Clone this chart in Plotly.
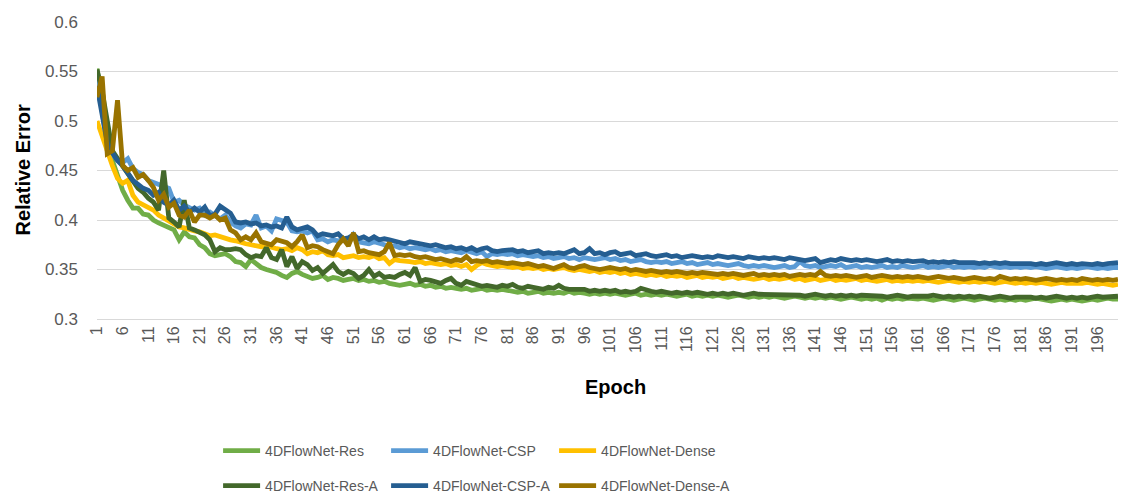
import plotly.graph_objects as go

# Relative error per training epoch for the six 4DFlowNet variants
epochs = list(range(1, 201))
tick_epochs = list(range(1, 200, 5))
y_ticks = [0.3, 0.35, 0.4, 0.45, 0.5, 0.55, 0.6]

res = [
    0.553, 0.520, 0.480, 0.460, 0.445, 0.430, 0.420, 0.412, 0.412, 0.406,
    0.405, 0.400, 0.397, 0.395, 0.392, 0.390, 0.380, 0.388, 0.383, 0.382,
    0.375, 0.372, 0.366, 0.364, 0.365, 0.366, 0.363, 0.358, 0.357, 0.353,
    0.360, 0.356, 0.352, 0.350, 0.349, 0.347, 0.344, 0.342, 0.346, 0.348,
    0.345, 0.343, 0.341, 0.342, 0.344, 0.340, 0.342, 0.341, 0.339, 0.340,
    0.341, 0.339, 0.340, 0.338, 0.339, 0.337, 0.338, 0.336, 0.335, 0.334,
    0.335, 0.336, 0.334, 0.335, 0.333, 0.334, 0.332, 0.333, 0.331, 0.332,
    0.331, 0.330, 0.331, 0.329, 0.330, 0.331, 0.329, 0.330, 0.329, 0.330,
    0.329, 0.328, 0.327, 0.328, 0.326, 0.327, 0.328, 0.326, 0.327, 0.326,
    0.327, 0.326, 0.328, 0.326, 0.327, 0.326, 0.325, 0.326, 0.325, 0.326,
    0.325, 0.326, 0.325, 0.324, 0.325, 0.326, 0.324, 0.325, 0.324, 0.325,
    0.324, 0.325, 0.324, 0.323, 0.324, 0.325, 0.323, 0.324, 0.323, 0.324,
    0.323, 0.324, 0.323, 0.322, 0.323, 0.324, 0.323, 0.322, 0.323, 0.322,
    0.323, 0.322, 0.323, 0.322, 0.321, 0.322, 0.323, 0.322, 0.321, 0.322,
    0.321, 0.322, 0.321, 0.322, 0.321, 0.320, 0.321, 0.322, 0.321, 0.320,
    0.321, 0.320, 0.321, 0.319, 0.321, 0.320, 0.321, 0.320, 0.321, 0.320,
    0.320, 0.321, 0.320, 0.319, 0.320, 0.321, 0.320, 0.319, 0.320, 0.321,
    0.320, 0.319, 0.320, 0.321, 0.320, 0.319, 0.320, 0.319, 0.320, 0.319,
    0.320, 0.319, 0.320, 0.321, 0.320, 0.319, 0.318, 0.319, 0.320, 0.319,
    0.320, 0.319, 0.318, 0.319, 0.320, 0.319, 0.320, 0.321, 0.320, 0.320,
]

csp = [
    0.545, 0.510, 0.475, 0.465, 0.462, 0.458, 0.462, 0.452, 0.448, 0.446,
    0.440, 0.438, 0.436, 0.433, 0.432, 0.418, 0.420, 0.415, 0.412, 0.410,
    0.412, 0.405, 0.408, 0.404, 0.401, 0.405, 0.398, 0.394, 0.392, 0.396,
    0.395, 0.405, 0.392, 0.394, 0.389, 0.401, 0.399, 0.398, 0.389, 0.388,
    0.389, 0.387, 0.389, 0.380, 0.381, 0.378, 0.380, 0.379, 0.380, 0.376,
    0.385, 0.378, 0.377, 0.376, 0.378, 0.377, 0.375, 0.373, 0.374, 0.372,
    0.373, 0.371, 0.372, 0.371, 0.370, 0.371, 0.369, 0.370, 0.368, 0.369,
    0.368, 0.367, 0.369, 0.367, 0.366, 0.368, 0.363, 0.366, 0.365, 0.366,
    0.365, 0.366, 0.364, 0.365, 0.364, 0.363, 0.364, 0.362, 0.363, 0.361,
    0.362, 0.363, 0.361, 0.362, 0.360, 0.362, 0.361, 0.360, 0.361, 0.362,
    0.360, 0.361, 0.359, 0.360, 0.358, 0.359, 0.360, 0.358, 0.357, 0.358,
    0.357, 0.358, 0.356, 0.357, 0.358, 0.356, 0.357, 0.355, 0.356, 0.357,
    0.355, 0.356, 0.355, 0.354, 0.355, 0.356, 0.354, 0.353, 0.354, 0.353,
    0.354, 0.353, 0.352, 0.353, 0.354, 0.352, 0.353, 0.358, 0.354, 0.353,
    0.354, 0.352, 0.353, 0.354, 0.353, 0.355, 0.352, 0.353, 0.354, 0.352,
    0.353, 0.352, 0.353, 0.354, 0.352, 0.353, 0.352, 0.354, 0.353, 0.352,
    0.353, 0.354, 0.352, 0.353, 0.352, 0.353, 0.354, 0.352, 0.353, 0.352,
    0.353, 0.352, 0.353, 0.352, 0.354, 0.353, 0.352, 0.353, 0.352, 0.353,
    0.352, 0.353, 0.352, 0.353, 0.352, 0.351, 0.352, 0.353, 0.352, 0.351,
    0.352, 0.351, 0.352, 0.353, 0.352, 0.351, 0.352, 0.351, 0.352, 0.352,
]

dense = [
    0.500, 0.485, 0.467, 0.455, 0.442, 0.437, 0.440, 0.425, 0.418, 0.415,
    0.413, 0.410, 0.405, 0.402, 0.399, 0.396, 0.393, 0.392, 0.390, 0.389,
    0.388, 0.386, 0.384, 0.385, 0.383, 0.381, 0.380, 0.379, 0.377, 0.376,
    0.375, 0.374, 0.373, 0.374, 0.372, 0.371, 0.370, 0.371, 0.369, 0.372,
    0.370, 0.366, 0.368, 0.367, 0.369, 0.365, 0.364, 0.365, 0.362, 0.363,
    0.364, 0.362, 0.363, 0.362, 0.364, 0.361, 0.362, 0.356, 0.360, 0.359,
    0.359, 0.358, 0.357, 0.358, 0.356, 0.357, 0.356, 0.355, 0.356, 0.354,
    0.355, 0.353, 0.355, 0.350, 0.354, 0.357, 0.355, 0.354, 0.353, 0.354,
    0.353, 0.352, 0.353, 0.351, 0.352, 0.351, 0.352, 0.350, 0.351, 0.350,
    0.351, 0.352, 0.350, 0.349, 0.350, 0.349, 0.348, 0.349, 0.347, 0.348,
    0.347, 0.348, 0.346, 0.347, 0.345, 0.346, 0.345, 0.344, 0.345, 0.344,
    0.345, 0.343, 0.344, 0.343, 0.344, 0.342, 0.343, 0.344, 0.342, 0.343,
    0.342, 0.343, 0.341, 0.342, 0.343, 0.341, 0.342, 0.341, 0.340, 0.341,
    0.342, 0.340, 0.341, 0.340, 0.341, 0.342, 0.340, 0.341, 0.339, 0.340,
    0.341, 0.339, 0.340, 0.341, 0.339, 0.340, 0.339, 0.340, 0.341, 0.339,
    0.340, 0.339, 0.338, 0.339, 0.340, 0.338, 0.339, 0.338, 0.339, 0.338,
    0.339, 0.338, 0.339, 0.338, 0.337, 0.338, 0.339, 0.338, 0.337, 0.338,
    0.337, 0.338, 0.337, 0.338, 0.337, 0.336, 0.337, 0.338, 0.337, 0.336,
    0.337, 0.336, 0.337, 0.336, 0.337, 0.336, 0.335, 0.336, 0.337, 0.336,
    0.336, 0.335, 0.336, 0.337, 0.336, 0.335, 0.336, 0.335, 0.334, 0.335,
]

res_a = [
    0.552, 0.530, 0.500, 0.470, 0.462, 0.455, 0.448, 0.440, 0.432, 0.428,
    0.422, 0.418, 0.410, 0.450, 0.402, 0.398, 0.393, 0.420, 0.392, 0.390,
    0.388, 0.385, 0.380, 0.368, 0.372, 0.370, 0.370, 0.371, 0.370, 0.365,
    0.362, 0.364, 0.363, 0.372, 0.362, 0.360, 0.370, 0.353, 0.363, 0.351,
    0.358, 0.355, 0.349, 0.352, 0.346, 0.350, 0.355, 0.348, 0.345, 0.348,
    0.346, 0.341, 0.344, 0.350, 0.343, 0.346, 0.342, 0.343, 0.342, 0.345,
    0.347, 0.344, 0.352, 0.338, 0.340, 0.339, 0.337, 0.336, 0.339, 0.341,
    0.336, 0.334, 0.338, 0.336, 0.335, 0.333, 0.334, 0.333, 0.332, 0.334,
    0.333, 0.335, 0.332, 0.331, 0.333, 0.332, 0.331, 0.330, 0.332, 0.331,
    0.334, 0.331, 0.330, 0.330, 0.329, 0.330, 0.328, 0.329, 0.328, 0.329,
    0.328, 0.329, 0.327, 0.328, 0.327, 0.328, 0.331, 0.329, 0.328, 0.327,
    0.328, 0.327, 0.326, 0.327, 0.326, 0.327, 0.326, 0.327, 0.326, 0.325,
    0.326, 0.325, 0.326, 0.325, 0.326, 0.325, 0.324, 0.325, 0.326, 0.325,
    0.325, 0.324, 0.325, 0.324, 0.325, 0.324, 0.325, 0.324, 0.323, 0.324,
    0.325, 0.324, 0.323, 0.324, 0.323, 0.324, 0.323, 0.324, 0.323, 0.324,
    0.324, 0.323, 0.324, 0.323, 0.322, 0.323, 0.324, 0.323, 0.322, 0.323,
    0.323, 0.322, 0.323, 0.324, 0.323, 0.322, 0.323, 0.322, 0.323, 0.322,
    0.323, 0.322, 0.323, 0.322, 0.321, 0.322, 0.323, 0.322, 0.321, 0.322,
    0.322, 0.323, 0.322, 0.321, 0.322, 0.321, 0.322, 0.323, 0.322, 0.321,
    0.322, 0.321, 0.322, 0.321, 0.322, 0.323, 0.322, 0.322, 0.323, 0.323,
]

csp_a = [
    0.535, 0.505, 0.478, 0.468, 0.460, 0.455, 0.448, 0.440, 0.436, 0.432,
    0.430, 0.425, 0.428, 0.418, 0.415, 0.420, 0.410, 0.414, 0.408, 0.412,
    0.408, 0.413, 0.404, 0.406, 0.414, 0.410, 0.407, 0.398, 0.397, 0.398,
    0.396, 0.397, 0.394, 0.395, 0.393, 0.394, 0.392, 0.403, 0.393, 0.390,
    0.391, 0.393, 0.390, 0.384, 0.386, 0.385, 0.384, 0.386, 0.381, 0.382,
    0.385, 0.381, 0.383, 0.380, 0.383, 0.380, 0.381, 0.380, 0.379, 0.378,
    0.376, 0.378, 0.377, 0.376, 0.375, 0.374, 0.375, 0.373, 0.372, 0.373,
    0.371, 0.372, 0.370, 0.372, 0.369, 0.371, 0.372, 0.369, 0.368, 0.369,
    0.370, 0.370, 0.368, 0.369, 0.367, 0.368, 0.369, 0.366, 0.367, 0.366,
    0.367, 0.366, 0.368, 0.370, 0.366, 0.367, 0.371, 0.366, 0.367, 0.365,
    0.367, 0.368, 0.365, 0.366, 0.367, 0.364, 0.365, 0.366, 0.364, 0.363,
    0.364, 0.365, 0.363, 0.364, 0.362, 0.363, 0.364, 0.363, 0.362, 0.363,
    0.362, 0.364, 0.363, 0.362, 0.363, 0.362, 0.361, 0.363, 0.362, 0.361,
    0.362, 0.361, 0.362, 0.361, 0.360, 0.362, 0.361, 0.360, 0.359, 0.360,
    0.361, 0.357, 0.359, 0.360, 0.359, 0.361, 0.360, 0.359, 0.360, 0.359,
    0.360, 0.359, 0.358, 0.359, 0.360, 0.358, 0.359, 0.358, 0.359, 0.358,
    0.358, 0.359, 0.357, 0.358, 0.357, 0.358, 0.357, 0.358, 0.357, 0.357,
    0.358, 0.357, 0.356, 0.357, 0.356, 0.357, 0.356, 0.357, 0.356, 0.356,
    0.357, 0.356, 0.356, 0.355, 0.356, 0.355, 0.356, 0.357, 0.356, 0.355,
    0.356, 0.355, 0.356, 0.355, 0.355, 0.356, 0.355, 0.356, 0.356, 0.357,
]

dense_a = [
    0.524, 0.545, 0.467, 0.470, 0.521, 0.455, 0.450, 0.453, 0.443, 0.446,
    0.440, 0.433, 0.420, 0.426, 0.413, 0.417, 0.405, 0.403, 0.410, 0.398,
    0.405, 0.405, 0.402, 0.405, 0.400, 0.402, 0.390, 0.387, 0.380, 0.383,
    0.380, 0.387, 0.378, 0.377, 0.375, 0.380, 0.378, 0.377, 0.373, 0.378,
    0.385, 0.372, 0.374, 0.373, 0.370, 0.368, 0.366, 0.375, 0.381, 0.374,
    0.387, 0.368, 0.369, 0.367, 0.366, 0.365, 0.368, 0.377, 0.364, 0.365,
    0.364, 0.365, 0.363, 0.362, 0.363, 0.361, 0.360, 0.361, 0.360, 0.358,
    0.360, 0.359, 0.363, 0.358, 0.359, 0.358, 0.359, 0.357, 0.358, 0.357,
    0.356, 0.357, 0.356, 0.355, 0.356, 0.355, 0.353, 0.354, 0.352, 0.351,
    0.353, 0.355, 0.352, 0.351, 0.353, 0.354, 0.352, 0.351, 0.350, 0.351,
    0.352, 0.351, 0.350, 0.351, 0.349, 0.350, 0.349, 0.348, 0.349, 0.348,
    0.347, 0.348, 0.347, 0.348, 0.347, 0.346, 0.347, 0.346, 0.347, 0.346,
    0.346, 0.345, 0.346, 0.345, 0.346, 0.345, 0.344, 0.345, 0.346, 0.344,
    0.345, 0.344, 0.345, 0.344, 0.345, 0.343, 0.344, 0.345, 0.344, 0.345,
    0.344, 0.348, 0.344, 0.343, 0.344, 0.343, 0.344, 0.343, 0.342, 0.343,
    0.344, 0.342, 0.343, 0.344, 0.343, 0.342, 0.343, 0.342, 0.343, 0.342,
    0.343, 0.342, 0.341, 0.342, 0.343, 0.342, 0.341, 0.342, 0.341, 0.340,
    0.341, 0.342, 0.341, 0.340, 0.341, 0.340, 0.343, 0.341, 0.340, 0.341,
    0.340, 0.341, 0.340, 0.339, 0.340, 0.341, 0.340, 0.339, 0.340, 0.339,
    0.340, 0.339, 0.341, 0.340, 0.339, 0.340, 0.339, 0.340, 0.339, 0.340,
]

series = [
    ("4DFlowNet-Res", res, "#70AD47", "legend"),
    ("4DFlowNet-CSP", csp, "#5B9BD5", "legend"),
    ("4DFlowNet-Dense", dense, "#FFC000", "legend"),
    ("4DFlowNet-Res-A", res_a, "#43682B", "legend2"),
    ("4DFlowNet-CSP-A", csp_a, "#255E91", "legend2"),
    ("4DFlowNet-Dense-A", dense_a, "#997300", "legend2"),
]

FONT = "Liberation Sans, Arial, sans-serif"
GRAY = "#595959"

# plot area in pixels: left 97, right 1118, top 22, bottom 319
PLOT_L, PLOT_W, PLOT_B, PLOT_H = 97, 1021, 319, 297

fig = go.Figure()
for name, values, color, legend_id in series:
    fig.add_trace(go.Scatter(
        x=epochs, y=values, name=name, mode="lines",
        line=dict(color=color, width=4.8),
        legend=legend_id,
    ))

# empty spacer entries so the last legend column has room for its full label
for legend_id in ("legend", "legend2"):
    fig.add_trace(go.Scatter(
        x=[None], y=[None], name=" ", mode="lines",
        line=dict(color="rgba(0,0,0,0)", width=0),
        legend=legend_id, hoverinfo="skip",
    ))

legend_style = dict(
    orientation="h", xanchor="left", yanchor="middle",
    xref="container", yref="container",
    font=dict(family=FONT, size=14, color=GRAY),
    entrywidth=116, itemwidth=37,
    bgcolor="rgba(0,0,0,0)",
)

fig.update_layout(
    width=1130, height=497,
    margin=dict(l=PLOT_L, r=1130 - PLOT_L - PLOT_W, t=22, b=497 - PLOT_B,
                autoexpand=False),
    paper_bgcolor="white", plot_bgcolor="white",
    font=dict(family=FONT, color=GRAY),
    showlegend=True,
    legend=dict(x=0.193, y=1 - 451 / 497, **legend_style),
    legend2=dict(x=0.193, y=1 - 486 / 497, **legend_style),
    xaxis=dict(
        range=[1, 200],
        tickmode="array", tickvals=tick_epochs,
        ticktext=[str(t) for t in tick_epochs],
        tickangle=-90, tickfont=dict(size=16, color=GRAY),
        showgrid=False, showline=True, linecolor="#D9D9D9", linewidth=1,
        ticks="", zeroline=False, automargin=False,
    ),
    yaxis=dict(
        range=[0.3, 0.6],
        tickmode="array", tickvals=y_ticks,
        ticktext=[f"{v:g}" for v in y_ticks],
        tickfont=dict(size=17, color=GRAY),
        showgrid=True, gridcolor="#D9D9D9", gridwidth=1,
        zeroline=False, ticks="", ticklabelstandoff=18, automargin=False,
    ),
    annotations=[
        dict(text="<b>Relative Error</b>", xref="paper", yref="paper",
             x=(22 - PLOT_L) / PLOT_W, y=0.5, xanchor="center",
             yanchor="middle", textangle=-90, showarrow=False,
             font=dict(family=FONT, size=20, color="#000000")),
        dict(text="<b>Epoch</b>", xref="paper", yref="paper",
             x=0.508, y=(PLOT_B - 387) / PLOT_H, xanchor="center",
             yanchor="middle", showarrow=False,
             font=dict(family=FONT, size=20, color="#000000")),
    ],
)

fig.write_html("out.html")
